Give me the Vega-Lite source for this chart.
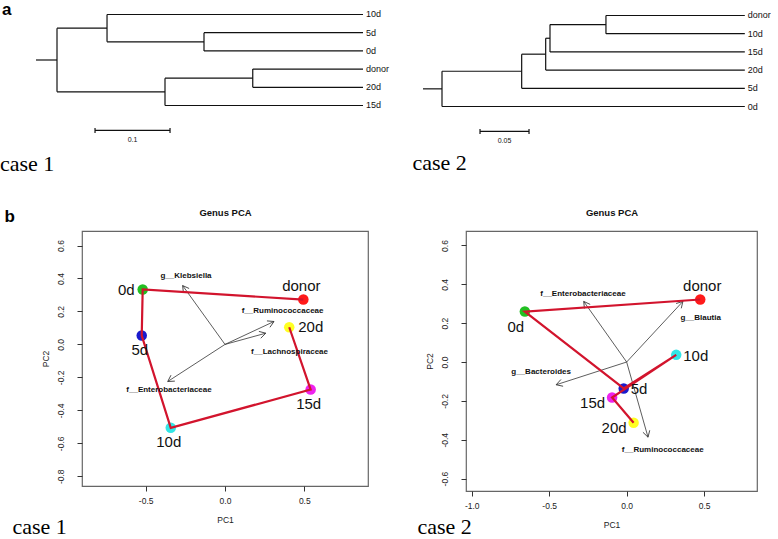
{
  "$schema": "https://vega.github.io/schema/vega-lite/v6.json",
  "background": "white",
  "padding": 0,
  "title": {"text": "a", "orient": "top", "anchor": "start", "frame": "group", "dx": -80, "dy": 4.5, "offset": -17, "baseline": "alphabetic", "font": "Liberation Sans", "fontSize": 17, "fontWeight": "bold", "color": "#000"},
  "datasets": {
    "d1seg": [
      {"x": -0.028, "x2": 0, "y": 2.5, "y2": 2.5},
      {"x": 0, "x2": 0, "y": 0.75, "y2": 4.25},
      {"x": 0, "x2": 0.0667, "y": 0.75, "y2": 0.75},
      {"x": 0, "x2": 0.144, "y": 4.25, "y2": 4.25},
      {"x": 0.0667, "x2": 0.0667, "y": 0, "y2": 1.5},
      {"x": 0.0667, "x2": 0.408, "y": 0, "y2": 0},
      {"x": 0.0667, "x2": 0.196, "y": 1.5, "y2": 1.5},
      {"x": 0.196, "x2": 0.196, "y": 1, "y2": 2},
      {"x": 0.196, "x2": 0.408, "y": 1, "y2": 1},
      {"x": 0.196, "x2": 0.408, "y": 2, "y2": 2},
      {"x": 0.144, "x2": 0.144, "y": 3.5, "y2": 5},
      {"x": 0.144, "x2": 0.261, "y": 3.5, "y2": 3.5},
      {"x": 0.144, "x2": 0.408, "y": 5, "y2": 5},
      {"x": 0.261, "x2": 0.261, "y": 3, "y2": 4},
      {"x": 0.261, "x2": 0.408, "y": 3, "y2": 3},
      {"x": 0.261, "x2": 0.408, "y": 4, "y2": 4},
      {"x": 0.0507, "x2": 0.1507, "y": 6.37, "y2": 6.37},
      {"x": 0.0507, "x2": 0.0507, "y": 6.23, "y2": 6.51},
      {"x": 0.1507, "x2": 0.1507, "y": 6.23, "y2": 6.51}
    ],
    "d1leaf": [
      {"label": "10d", "x": 0.408, "y": 0},
      {"label": "5d", "x": 0.408, "y": 1},
      {"label": "0d", "x": 0.408, "y": 2},
      {"label": "donor", "x": 0.408, "y": 3},
      {"label": "20d", "x": 0.408, "y": 4},
      {"label": "15d", "x": 0.408, "y": 5}
    ],
    "d1bar": [{"label": "0.1", "x": 0.1007, "y": 6.92}],
    "d2seg": [
      {"x": -0.0194, "x2": 0, "y": 4.03, "y2": 4.03},
      {"x": 0, "x2": 0, "y": 3.0625, "y2": 5},
      {"x": 0, "x2": 0.0813, "y": 3.0625, "y2": 3.0625},
      {"x": 0, "x2": 0.309, "y": 5, "y2": 5},
      {"x": 0.0813, "x2": 0.0813, "y": 2.125, "y2": 4},
      {"x": 0.0813, "x2": 0.1058, "y": 2.125, "y2": 2.125},
      {"x": 0.0813, "x2": 0.309, "y": 4, "y2": 4},
      {"x": 0.1058, "x2": 0.1058, "y": 1.25, "y2": 3},
      {"x": 0.1058, "x2": 0.1102, "y": 1.25, "y2": 1.25},
      {"x": 0.1058, "x2": 0.309, "y": 3, "y2": 3},
      {"x": 0.1102, "x2": 0.1102, "y": 0.5, "y2": 2},
      {"x": 0.1102, "x2": 0.1673, "y": 0.5, "y2": 0.5},
      {"x": 0.1102, "x2": 0.309, "y": 2, "y2": 2},
      {"x": 0.1673, "x2": 0.1673, "y": 0, "y2": 1},
      {"x": 0.1673, "x2": 0.309, "y": 0, "y2": 0},
      {"x": 0.1673, "x2": 0.309, "y": 1, "y2": 1},
      {"x": 0.0388, "x2": 0.0888, "y": 6.37, "y2": 6.37},
      {"x": 0.0388, "x2": 0.0388, "y": 6.23, "y2": 6.51},
      {"x": 0.0888, "x2": 0.0888, "y": 6.23, "y2": 6.51}
    ],
    "d2leaf": [
      {"label": "donor", "x": 0.309, "y": 0},
      {"label": "10d", "x": 0.309, "y": 1},
      {"label": "15d", "x": 0.309, "y": 2},
      {"label": "20d", "x": 0.309, "y": 3},
      {"label": "5d", "x": 0.309, "y": 4},
      {"label": "0d", "x": 0.309, "y": 5}
    ],
    "d2bar": [{"label": "0.05", "x": 0.0638, "y": 6.87}],
    "p1samples": [
      {"sample": "donor", "pc1": 0.494, "pc2": 0.272, "step": 0},
      {"sample": "0d", "pc1": -0.519, "pc2": 0.333, "step": 1},
      {"sample": "5d", "pc1": -0.525, "pc2": 0.054, "step": 2},
      {"sample": "10d", "pc1": -0.342, "pc2": -0.506, "step": 3},
      {"sample": "15d", "pc1": 0.54, "pc2": -0.274, "step": 4},
      {"sample": "20d", "pc1": 0.405, "pc2": 0.104, "step": 5}
    ],
    "p1arrows": [
      {"name": "g__Klebsiella", "x0": 0, "y0": 0, "x": -0.267, "y": 0.357, "lx": -0.246, "ly": 0.412},
      {"name": "f__Ruminococcaceae", "x0": 0, "y0": 0, "x": 0.309, "y": 0.139, "lx": 0.363, "ly": 0.2},
      {"name": "f__Lachnospiraceae", "x0": 0, "y0": 0, "x": 0.257, "y": 0.068, "lx": 0.407, "ly": -0.049},
      {"name": "f__Enterobacteriaceae", "x0": 0, "y0": 0, "x": -0.361, "y": -0.225, "lx": -0.353, "ly": -0.274}
    ],
    "p2samples": [
      {"sample": "donor", "pc1": 0.475, "pc2": 0.322, "step": 0},
      {"sample": "0d", "pc1": -0.657, "pc2": 0.26, "step": 1},
      {"sample": "5d", "pc1": -0.019, "pc2": -0.136, "step": 2},
      {"sample": "10d", "pc1": 0.32, "pc2": 0.037, "step": 3},
      {"sample": "15d", "pc1": -0.094, "pc2": -0.183, "step": 4},
      {"sample": "20d", "pc1": 0.045, "pc2": -0.313, "step": 5}
    ],
    "p2arrows": [
      {"name": "f__Enterobacteriaceae", "x0": 0, "y0": 0, "x": -0.277, "y": 0.312, "lx": -0.282, "ly": 0.348},
      {"name": "g__Blautia", "x0": 0, "y0": 0, "x": 0.363, "y": 0.312, "lx": 0.478, "ly": 0.229},
      {"name": "g__Bacteroides", "x0": 0, "y0": 0, "x": -0.455, "y": -0.117, "lx": -0.552, "ly": -0.049},
      {"name": "f__Ruminococcaceae", "x0": 0, "y0": 0, "x": 0.138, "y": -0.387, "lx": 0.233, "ly": -0.452}
    ]
  },
  "columns": 2,
  "align": "none",
  "bounds": "flush",
  "spacing": {"row": 81, "column": 98},
  "concat": [
    {
      "width": 286, "height": 140,
      "view": {"stroke": null},
      "title": {"text": "case 1", "orient": "bottom", "anchor": "start", "frame": "group", "dx": -82, "dy": 20.5, "offset": 0, "baseline": "alphabetic", "font": "Liberation Serif", "fontSize": 22, "fontWeight": "normal", "color": "#000"},
      "layer": [
        {"data": {"name": "d1seg"}, "mark": {"type": "rule", "color": "#111", "strokeWidth": 1.2},
         "encoding": {
           "x": {"field": "x", "type": "quantitative", "scale": {"domain": [0.03333, 0.41467], "nice": false, "zero": false}, "axis": null},
           "x2": {"field": "x2"},
           "y": {"field": "y", "type": "quantitative", "scale": {"domain": [-0.247, 7.445], "nice": false, "zero": false, "reverse": true}, "axis": null},
           "y2": {"field": "y2"}}},
        {"data": {"name": "d1leaf"}, "mark": {"type": "text", "align": "left", "baseline": "middle", "dx": 3, "fontSize": 9, "color": "#111"},
         "encoding": {
           "x": {"field": "x", "type": "quantitative", "scale": {"domain": [0.03333, 0.41467], "nice": false, "zero": false}, "axis": null},
           "y": {"field": "y", "type": "quantitative", "scale": {"domain": [-0.247, 7.445], "nice": false, "zero": false, "reverse": true}, "axis": null},
           "text": {"field": "label", "type": "nominal"}}},
        {"data": {"name": "d1bar"}, "mark": {"type": "text", "align": "center", "baseline": "middle", "fontSize": 7, "color": "#111"},
         "encoding": {
           "x": {"field": "x", "type": "quantitative", "scale": {"domain": [0.03333, 0.41467], "nice": false, "zero": false}, "axis": null},
           "y": {"field": "y", "type": "quantitative", "scale": {"domain": [-0.247, 7.445], "nice": false, "zero": false, "reverse": true}, "axis": null},
           "text": {"field": "label", "type": "nominal"}}}
      ]
    },
    {
      "width": 291, "height": 135,
      "view": {"stroke": null},
      "title": {"text": "case 2", "orient": "bottom", "anchor": "start", "frame": "group", "dx": -53.5, "dy": 24.5, "offset": 0, "baseline": "alphabetic", "font": "Liberation Serif", "fontSize": 22, "fontWeight": "normal", "color": "#000"},
      "layer": [
        {"data": {"name": "d2seg"}, "mark": {"type": "rule", "color": "#111", "strokeWidth": 1.2},
         "encoding": {
           "x": {"field": "x", "type": "quantitative", "scale": {"domain": [0.02449, 0.32143], "nice": false, "zero": false}, "axis": null},
           "x2": {"field": "x2"},
           "y": {"field": "y", "type": "quantitative", "scale": {"domain": [-0.302, 7.115], "nice": false, "zero": false, "reverse": true}, "axis": null},
           "y2": {"field": "y2"}}},
        {"data": {"name": "d2leaf"}, "mark": {"type": "text", "align": "left", "baseline": "middle", "dx": 3, "fontSize": 9, "color": "#111"},
         "encoding": {
           "x": {"field": "x", "type": "quantitative", "scale": {"domain": [0.02449, 0.32143], "nice": false, "zero": false}, "axis": null},
           "y": {"field": "y", "type": "quantitative", "scale": {"domain": [-0.302, 7.115], "nice": false, "zero": false, "reverse": true}, "axis": null},
           "text": {"field": "label", "type": "nominal"}}},
        {"data": {"name": "d2bar"}, "mark": {"type": "text", "align": "center", "baseline": "middle", "fontSize": 7, "color": "#111"},
         "encoding": {
           "x": {"field": "x", "type": "quantitative", "scale": {"domain": [0.02449, 0.32143], "nice": false, "zero": false}, "axis": null},
           "y": {"field": "y", "type": "quantitative", "scale": {"domain": [-0.302, 7.115], "nice": false, "zero": false, "reverse": true}, "axis": null},
           "text": {"field": "label", "type": "nominal"}}}
      ]
    },
    {
      "width": 286, "height": 255,
      "title": {"text": "case 1", "orient": "bottom", "anchor": "start", "frame": "group", "dx": -69.5, "dy": 10.8, "offset": 0, "baseline": "alphabetic", "font": "Liberation Serif", "fontSize": 22, "fontWeight": "normal", "color": "#000"},
      "resolve": {"axis": {"x": "independent", "y": "independent"}},
      "layer": [
        {"data": {"name": "p1arrows"}, "mark": {"type": "rule", "color": "#333", "strokeWidth": 0.8},
         "encoding": {
           "x": {"field": "x0", "type": "quantitative", "scale": {"domain": [-0.9016, 0.9016], "nice": false, "zero": false}, "axis": null},
           "y": {"field": "y0", "type": "quantitative", "scale": {"domain": [-0.859, 0.688], "nice": false, "zero": false}, "axis": null},
           "x2": {"field": "x"},
           "y2": {"field": "y"}}},
        {"data": {"name": "p1arrows"}, "mark": {"type": "point", "shape": "M-0.5,0.87L0,0L0.5,0.87", "filled": false, "size": 200, "opacity": 1, "color": "#333", "strokeWidth": 0.8, "angle": {"expr": "atan2(datum.x*158.6, datum.y*164.8)*180/PI"}},
         "encoding": {
           "x": {"field": "x", "type": "quantitative", "scale": {"domain": [-0.9016, 0.9016], "nice": false, "zero": false}, "axis": null},
           "y": {"field": "y", "type": "quantitative", "scale": {"domain": [-0.859, 0.688], "nice": false, "zero": false}, "axis": null}}},
        {"data": {"name": "p1samples"}, "mark": {"type": "point", "filled": true, "size": 110, "opacity": 1},
         "encoding": {
           "x": {"field": "pc1", "type": "quantitative", "scale": {"domain": [-0.9016, 0.9016], "nice": false, "zero": false},
                 "axis": {"orient": "bottom", "title": "PC1", "values": [-0.5, 0, 0.5], "labelExpr": "replace(format(datum.value, '.1f'), '\u2212', '-')", "domain": false, "grid": false, "tickSize": 5, "tickColor": "#333", "labelFontSize": 8.5, "labelColor": "#222", "labelPadding": 5.5, "labelFlush": false, "labelOverlap": false, "titleFontSize": 8.5, "titleFontWeight": "normal", "titleColor": "#222", "titlePadding": 10}},
           "y": {"field": "pc2", "type": "quantitative", "scale": {"domain": [-0.859, 0.688], "nice": false, "zero": false},
                 "axis": {"orient": "left", "title": "PC2", "values": [-0.8, -0.6, -0.4, -0.2, 0, 0.2, 0.4, 0.6], "labelExpr": "replace(format(datum.value, '.1f'), '\u2212', '-')", "labelAngle": -90, "labelAlign": "center", "labelBaseline": "bottom", "domain": false, "grid": false, "tickSize": 5, "tickColor": "#333", "labelFontSize": 8.5, "labelColor": "#222", "labelPadding": 12, "labelFlush": false, "labelOverlap": false, "titleFontSize": 8.5, "titleFontWeight": "normal", "titleColor": "#222", "titlePadding": 6}},
           "color": {"field": "sample", "type": "nominal", "scale": {"domain": ["donor", "0d", "5d", "10d", "15d", "20d"], "range": ["#ff1a1a", "#22c022", "#1a1acd", "#33e6e6", "#ee22ee", "#ffff22"]}, "legend": null}}},
        {"data": {"name": "p1samples"}, "mark": {"type": "line", "color": "#d2142d", "strokeWidth": 2.2},
         "encoding": {
           "x": {"field": "pc1", "type": "quantitative", "scale": {"domain": [-0.9016, 0.9016], "nice": false, "zero": false},
                 "axis": {"orient": "top", "title": "Genus PCA", "domain": false, "ticks": false, "labels": false, "grid": false, "tickSize": 0, "titleFontSize": 9.5, "titleFontWeight": "bold", "titleColor": "#111", "titlePadding": 14}},
           "y": {"field": "pc2", "type": "quantitative", "scale": {"domain": [-0.859, 0.688], "nice": false, "zero": false},
                 "axis": {"orient": "left", "title": "b", "domain": false, "ticks": false, "labels": false, "grid": false, "titleAngle": 0, "titleAlign": "left", "titleBaseline": "alphabetic", "titleX": -78, "titleY": -9.5, "titleFontSize": 17, "titleFontWeight": "bold", "titleColor": "#000"}},
           "order": {"field": "step", "type": "quantitative"}}},
        {"data": {"name": "p1arrows"}, "mark": {"type": "text", "align": "center", "baseline": "middle", "fontSize": 8, "fontWeight": "bold", "color": "#111"},
         "encoding": {
           "x": {"field": "lx", "type": "quantitative", "scale": {"domain": [-0.9016, 0.9016], "nice": false, "zero": false}, "axis": null},
           "y": {"field": "ly", "type": "quantitative", "scale": {"domain": [-0.859, 0.688], "nice": false, "zero": false}, "axis": null},
           "text": {"field": "name", "type": "nominal"}}},
        {"data": {"name": "p1samples"}, "transform": [{"filter": {"field": "sample", "oneOf": ["donor"]}}],
         "mark": {"type": "text", "align": "center", "baseline": "alphabetic", "dx": -2, "dy": -9, "fontSize": 15, "color": "#111"},
         "encoding": {
           "x": {"field": "pc1", "type": "quantitative", "scale": {"domain": [-0.9016, 0.9016], "nice": false, "zero": false}, "axis": null},
           "y": {"field": "pc2", "type": "quantitative", "scale": {"domain": [-0.859, 0.688], "nice": false, "zero": false}, "axis": null},
           "text": {"field": "sample", "type": "nominal"}}},
        {"data": {"name": "p1samples"}, "transform": [{"filter": {"field": "sample", "oneOf": ["0d"]}}],
         "mark": {"type": "text", "align": "right", "baseline": "alphabetic", "dx": -8, "dy": 5, "fontSize": 15, "color": "#111"},
         "encoding": {
           "x": {"field": "pc1", "type": "quantitative", "scale": {"domain": [-0.9016, 0.9016], "nice": false, "zero": false}, "axis": null},
           "y": {"field": "pc2", "type": "quantitative", "scale": {"domain": [-0.859, 0.688], "nice": false, "zero": false}, "axis": null},
           "text": {"field": "sample", "type": "nominal"}}},
        {"data": {"name": "p1samples"}, "transform": [{"filter": {"field": "sample", "oneOf": ["20d"]}}],
         "mark": {"type": "text", "align": "left", "baseline": "alphabetic", "dx": 9, "dy": 5, "fontSize": 15, "color": "#111"},
         "encoding": {
           "x": {"field": "pc1", "type": "quantitative", "scale": {"domain": [-0.9016, 0.9016], "nice": false, "zero": false}, "axis": null},
           "y": {"field": "pc2", "type": "quantitative", "scale": {"domain": [-0.859, 0.688], "nice": false, "zero": false}, "axis": null},
           "text": {"field": "sample", "type": "nominal"}}},
        {"data": {"name": "p1samples"}, "transform": [{"filter": {"field": "sample", "oneOf": ["5d", "10d", "15d"]}}],
         "mark": {"type": "text", "align": "center", "baseline": "alphabetic", "dx": -2, "dy": 19, "fontSize": 15, "color": "#111"},
         "encoding": {
           "x": {"field": "pc1", "type": "quantitative", "scale": {"domain": [-0.9016, 0.9016], "nice": false, "zero": false}, "axis": null},
           "y": {"field": "pc2", "type": "quantitative", "scale": {"domain": [-0.859, 0.688], "nice": false, "zero": false}, "axis": null},
           "text": {"field": "sample", "type": "nominal"}}}
      ]
    },
    {
      "width": 291, "height": 260,
      "title": {"text": "case 2", "orient": "bottom", "anchor": "start", "frame": "group", "dx": -48.5, "dy": 5.8, "offset": 0, "baseline": "alphabetic", "font": "Liberation Serif", "fontSize": 22, "fontWeight": "normal", "color": "#000"},
      "resolve": {"axis": {"x": "independent", "y": "independent"}},
      "layer": [
        {"data": {"name": "p2arrows"}, "mark": {"type": "rule", "color": "#333", "strokeWidth": 0.8},
         "encoding": {
           "x": {"field": "x0", "type": "quantitative", "scale": {"domain": [-1.037, 0.8415], "nice": false, "zero": false}, "axis": null},
           "y": {"field": "y0", "type": "quantitative", "scale": {"domain": [-0.664, 0.6746], "nice": false, "zero": false}, "axis": null},
           "x2": {"field": "x"},
           "y2": {"field": "y"}}},
        {"data": {"name": "p2arrows"}, "mark": {"type": "point", "shape": "M-0.5,0.87L0,0L0.5,0.87", "filled": false, "size": 200, "opacity": 1, "color": "#333", "strokeWidth": 0.8, "angle": {"expr": "atan2(datum.x*155.3, datum.y*194.2)*180/PI"}},
         "encoding": {
           "x": {"field": "x", "type": "quantitative", "scale": {"domain": [-1.037, 0.8415], "nice": false, "zero": false}, "axis": null},
           "y": {"field": "y", "type": "quantitative", "scale": {"domain": [-0.664, 0.6746], "nice": false, "zero": false}, "axis": null}}},
        {"data": {"name": "p2samples"}, "mark": {"type": "point", "filled": true, "size": 110, "opacity": 1},
         "encoding": {
           "x": {"field": "pc1", "type": "quantitative", "scale": {"domain": [-1.037, 0.8415], "nice": false, "zero": false},
                 "axis": {"orient": "bottom", "title": "PC1", "values": [-1, -0.5, 0, 0.5], "labelExpr": "replace(format(datum.value, '.1f'), '\u2212', '-')", "domain": false, "grid": false, "tickSize": 5, "tickColor": "#333", "labelFontSize": 8.5, "labelColor": "#222", "labelPadding": 5.5, "labelFlush": false, "labelOverlap": false, "titleFontSize": 8.5, "titleFontWeight": "normal", "titleColor": "#222", "titlePadding": 10}},
           "y": {"field": "pc2", "type": "quantitative", "scale": {"domain": [-0.664, 0.6746], "nice": false, "zero": false},
                 "axis": {"orient": "left", "title": "PC2", "values": [-0.6, -0.4, -0.2, 0, 0.2, 0.4, 0.6], "labelExpr": "replace(format(datum.value, '.1f'), '\u2212', '-')", "labelAngle": -90, "labelAlign": "center", "labelBaseline": "bottom", "domain": false, "grid": false, "tickSize": 5, "tickColor": "#333", "labelFontSize": 8.5, "labelColor": "#222", "labelPadding": 12, "labelFlush": false, "labelOverlap": false, "titleFontSize": 8.5, "titleFontWeight": "normal", "titleColor": "#222", "titlePadding": 6}},
           "color": {"field": "sample", "type": "nominal", "scale": {"domain": ["donor", "0d", "5d", "10d", "15d", "20d"], "range": ["#ff1a1a", "#22c022", "#1a1acd", "#33e6e6", "#ee22ee", "#ffff22"]}, "legend": null}}},
        {"data": {"name": "p2samples"}, "mark": {"type": "line", "color": "#d2142d", "strokeWidth": 2.2},
         "encoding": {
           "x": {"field": "pc1", "type": "quantitative", "scale": {"domain": [-1.037, 0.8415], "nice": false, "zero": false},
                 "axis": {"orient": "top", "title": "Genus PCA", "domain": false, "ticks": false, "labels": false, "grid": false, "tickSize": 0, "titleFontSize": 9.5, "titleFontWeight": "bold", "titleColor": "#111", "titlePadding": 14}},
           "y": {"field": "pc2", "type": "quantitative", "scale": {"domain": [-0.664, 0.6746], "nice": false, "zero": false}, "axis": null},
           "order": {"field": "step", "type": "quantitative"}}},
        {"data": {"name": "p2arrows"}, "mark": {"type": "text", "align": "center", "baseline": "middle", "fontSize": 8, "fontWeight": "bold", "color": "#111"},
         "encoding": {
           "x": {"field": "lx", "type": "quantitative", "scale": {"domain": [-1.037, 0.8415], "nice": false, "zero": false}, "axis": null},
           "y": {"field": "ly", "type": "quantitative", "scale": {"domain": [-0.664, 0.6746], "nice": false, "zero": false}, "axis": null},
           "text": {"field": "name", "type": "nominal"}}},
        {"data": {"name": "p2samples"}, "transform": [{"filter": {"field": "sample", "oneOf": ["donor"]}}],
         "mark": {"type": "text", "align": "center", "baseline": "alphabetic", "dx": 2, "dy": -8, "fontSize": 15, "color": "#111"},
         "encoding": {
           "x": {"field": "pc1", "type": "quantitative", "scale": {"domain": [-1.037, 0.8415], "nice": false, "zero": false}, "axis": null},
           "y": {"field": "pc2", "type": "quantitative", "scale": {"domain": [-0.664, 0.6746], "nice": false, "zero": false}, "axis": null},
           "text": {"field": "sample", "type": "nominal"}}},
        {"data": {"name": "p2samples"}, "transform": [{"filter": {"field": "sample", "oneOf": ["0d"]}}],
         "mark": {"type": "text", "align": "center", "baseline": "alphabetic", "dx": -9, "dy": 20, "fontSize": 15, "color": "#111"},
         "encoding": {
           "x": {"field": "pc1", "type": "quantitative", "scale": {"domain": [-1.037, 0.8415], "nice": false, "zero": false}, "axis": null},
           "y": {"field": "pc2", "type": "quantitative", "scale": {"domain": [-0.664, 0.6746], "nice": false, "zero": false}, "axis": null},
           "text": {"field": "sample", "type": "nominal"}}},
        {"data": {"name": "p2samples"}, "transform": [{"filter": {"field": "sample", "oneOf": ["10d", "5d"]}}],
         "mark": {"type": "text", "align": "left", "baseline": "alphabetic", "dx": 7, "dy": 6, "fontSize": 15, "color": "#111"},
         "encoding": {
           "x": {"field": "pc1", "type": "quantitative", "scale": {"domain": [-1.037, 0.8415], "nice": false, "zero": false}, "axis": null},
           "y": {"field": "pc2", "type": "quantitative", "scale": {"domain": [-0.664, 0.6746], "nice": false, "zero": false}, "axis": null},
           "text": {"field": "sample", "type": "nominal"}}},
        {"data": {"name": "p2samples"}, "transform": [{"filter": {"field": "sample", "oneOf": ["15d", "20d"]}}],
         "mark": {"type": "text", "align": "right", "baseline": "alphabetic", "dx": -7, "dy": 10, "fontSize": 15, "color": "#111"},
         "encoding": {
           "x": {"field": "pc1", "type": "quantitative", "scale": {"domain": [-1.037, 0.8415], "nice": false, "zero": false}, "axis": null},
           "y": {"field": "pc2", "type": "quantitative", "scale": {"domain": [-0.664, 0.6746], "nice": false, "zero": false}, "axis": null},
           "text": {"field": "sample", "type": "nominal"}}}
      ]
    }
  ],
  "config": {
    "font": "Liberation Sans",
    "view": {"stroke": "#666", "strokeWidth": 1.2},
    "axis": {"grid": false}
  }
}
